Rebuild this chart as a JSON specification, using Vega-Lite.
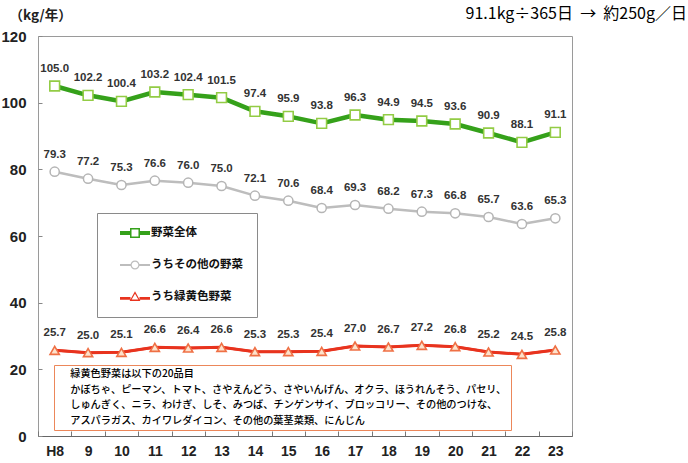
{
  "$schema": "https://vega.github.io/schema/vega-lite/v6.json",
  "width": 534,
  "height": 400,
  "autosize": "none",
  "padding": {"left": 38, "top": 36, "right": 116, "bottom": 27},
  "background": "white",
  "title": {
    "text": "91.1kg÷365日\u00a0\u00a0→\u00a0\u00a0約250g／日",
    "anchor": "end",
    "frame": "group",
    "dx": 115,
    "offset": 0,
    "dy": 14,
    "font": "Noto Sans CJK JP",
    "fontSize": 16,
    "fontWeight": "normal",
    "color": "#000000"
  },
  "datasets": {
    "consumption": [
      {"年度": "H8", "系列": "野菜全体", "値": 105.0},
      {"年度": "9", "系列": "野菜全体", "値": 102.2},
      {"年度": "10", "系列": "野菜全体", "値": 100.4},
      {"年度": "11", "系列": "野菜全体", "値": 103.2},
      {"年度": "12", "系列": "野菜全体", "値": 102.4},
      {"年度": "13", "系列": "野菜全体", "値": 101.5},
      {"年度": "14", "系列": "野菜全体", "値": 97.4},
      {"年度": "15", "系列": "野菜全体", "値": 95.9},
      {"年度": "16", "系列": "野菜全体", "値": 93.8},
      {"年度": "17", "系列": "野菜全体", "値": 96.3},
      {"年度": "18", "系列": "野菜全体", "値": 94.9},
      {"年度": "19", "系列": "野菜全体", "値": 94.5},
      {"年度": "20", "系列": "野菜全体", "値": 93.6},
      {"年度": "21", "系列": "野菜全体", "値": 90.9},
      {"年度": "22", "系列": "野菜全体", "値": 88.1},
      {"年度": "23", "系列": "野菜全体", "値": 91.1},
      {"年度": "H8", "系列": "うちその他の野菜", "値": 79.3},
      {"年度": "9", "系列": "うちその他の野菜", "値": 77.2},
      {"年度": "10", "系列": "うちその他の野菜", "値": 75.3},
      {"年度": "11", "系列": "うちその他の野菜", "値": 76.6},
      {"年度": "12", "系列": "うちその他の野菜", "値": 76.0},
      {"年度": "13", "系列": "うちその他の野菜", "値": 75.0},
      {"年度": "14", "系列": "うちその他の野菜", "値": 72.1},
      {"年度": "15", "系列": "うちその他の野菜", "値": 70.6},
      {"年度": "16", "系列": "うちその他の野菜", "値": 68.4},
      {"年度": "17", "系列": "うちその他の野菜", "値": 69.3},
      {"年度": "18", "系列": "うちその他の野菜", "値": 68.2},
      {"年度": "19", "系列": "うちその他の野菜", "値": 67.3},
      {"年度": "20", "系列": "うちその他の野菜", "値": 66.8},
      {"年度": "21", "系列": "うちその他の野菜", "値": 65.7},
      {"年度": "22", "系列": "うちその他の野菜", "値": 63.6},
      {"年度": "23", "系列": "うちその他の野菜", "値": 65.3},
      {"年度": "H8", "系列": "うち緑黄色野菜", "値": 25.7},
      {"年度": "9", "系列": "うち緑黄色野菜", "値": 25.0},
      {"年度": "10", "系列": "うち緑黄色野菜", "値": 25.1},
      {"年度": "11", "系列": "うち緑黄色野菜", "値": 26.6},
      {"年度": "12", "系列": "うち緑黄色野菜", "値": 26.4},
      {"年度": "13", "系列": "うち緑黄色野菜", "値": 26.6},
      {"年度": "14", "系列": "うち緑黄色野菜", "値": 25.3},
      {"年度": "15", "系列": "うち緑黄色野菜", "値": 25.3},
      {"年度": "16", "系列": "うち緑黄色野菜", "値": 25.4},
      {"年度": "17", "系列": "うち緑黄色野菜", "値": 27.0},
      {"年度": "18", "系列": "うち緑黄色野菜", "値": 26.7},
      {"年度": "19", "系列": "うち緑黄色野菜", "値": 27.2},
      {"年度": "20", "系列": "うち緑黄色野菜", "値": 26.8},
      {"年度": "21", "系列": "うち緑黄色野菜", "値": 25.2},
      {"年度": "22", "系列": "うち緑黄色野菜", "値": 24.5},
      {"年度": "23", "系列": "うち緑黄色野菜", "値": 25.8}
    ],
    "note": [
      {"行": "緑黄色野菜は以下の20品目"},
      {"行": "かぼちゃ、ピーマン、トマト、さやえんどう、さやいんげん、オクラ、ほうれんそう、パセリ、"},
      {"行": "しゅんぎく、ニラ、わけぎ、しそ、みつば、チンゲンサイ、ブロッコリー、その他のつけな、"},
      {"行": "アスパラガス、カイワレダイコン、その他の葉茎菜類、にんじん"}
    ]
  },
  "layer": [
    {
      "data": {"name": "consumption"},
      "mark": {"type": "line", "strokeJoin": "round", "strokeWidth": 2.5},
      "encoding": {
        "x": {
          "field": "年度",
          "type": "ordinal",
          "sort": null,
          "scale": {"type": "band", "paddingInner": 0, "paddingOuter": 0},
          "axis": {
            "title": null,
            "labelAngle": 0,
            "labelFont": "Liberation Sans",
            "labelFontSize": 14,
            "labelFontWeight": "bold",
            "labelColor": "#222222",
            "labelPadding": 13,
            "ticks": true,
            "tickBand": "extent",
            "tickSize": -5,
            "tickColor": "#777777",
            "domainColor": "#666666",
            "grid": false
          }
        },
        "y": {
          "field": "値",
          "type": "quantitative",
          "scale": {"domain": [0, 120], "nice": false},
          "axis": {
            "values": [0, 20, 40, 60, 80, 100, 120],
            "title": "（kg/年）",
            "titleAngle": 0,
            "titleAlign": "left",
            "titleBaseline": "middle",
            "titleX": -29,
            "titleY": -21,
            "titleFont": "Noto Sans CJK JP",
            "titleFontSize": 13.5,
            "titleFontWeight": "bold",
            "titleColor": "#222222",
            "labelFont": "Liberation Sans",
            "labelFontSize": 15,
            "labelFontWeight": "bold",
            "labelColor": "#222222",
            "tickSize": -4,
            "tickColor": "#888888",
            "labelPadding": 16,
            "domain": false,
            "grid": false
          }
        },
        "color": {
          "field": "系列",
          "type": "nominal",
          "scale": {
            "domain": ["野菜全体", "うちその他の野菜", "うち緑黄色野菜"],
            "range": ["#35a11a", "#bdbdbd", "#e8331e"]
          },
          "legend": {
            "orient": "none",
            "legendX": 59,
            "legendY": 177,
            "title": null,
            "fillColor": "white",
            "strokeColor": "#8a8a8a",
            "padding": 14,
            "symbolOffset": 18,
            "symbolSize": 144,
            "symbolStrokeWidth": 0,
            "labelOffset": 10,
            "rowPadding": 20,
            "labelFont": "Noto Sans CJK JP",
            "labelFontSize": 11.5,
            "labelFontWeight": "bold",
            "labelColor": "#111111",
            "labelLimit": 300,
            "encode": {
              "symbols": {
                "update": {
                  "shape": {
                    "signal": "datum.value === '野菜全体' ? 'M-2.5,-0.35H-0.83V0.35H-2.5Z M0.83,-0.35H2.5V0.35H0.83Z M-0.83,-0.83H0.83V0.83H-0.83Z M-0.58,-0.58V0.58H0.58V-0.58Z' : datum.value === 'うちその他の野菜' ? 'M-2.5,-0.17H-0.72V0.17H-2.5Z M0.72,-0.17H2.5V0.17H0.72Z M-0.75,0A0.75,0.75 0 1,1 0.75,0A0.75,0.75 0 1,1 -0.75,0Z M-0.55,0A0.55,0.55 0 1,0 0.55,0A0.55,0.55 0 1,0 -0.55,0Z' : 'M-2.5,0H-0.75V0.45H-2.5Z M0.75,0H2.5V0.45H0.75Z M0,-0.95L0.9,0.65H-0.9Z M0,-0.55L-0.55,0.42H0.55Z'"
                  },
                  "fill": {"signal": "scale('color', datum.value)"},
                  "fillOpacity": {"value": 1},
                  "stroke": {"value": "transparent"},
                  "strokeWidth": {"value": 0}
                }
              }
            }
          }
        }
      }
    },
    {
      "data": {"name": "consumption"},
      "transform": [{"filter": "datum['系列'] === '野菜全体'"}],
      "mark": {"type": "line", "strokeJoin": "round", "strokeWidth": 4.5, "color": "#35a11a"},
      "encoding": {
        "x": {"field": "年度", "type": "ordinal", "sort": null},
        "y": {"field": "値", "type": "quantitative"}
      }
    },
    {
      "data": {"name": "consumption"},
      "transform": [{"filter": "datum['系列'] === 'うち緑黄色野菜'"}],
      "mark": {"type": "line", "strokeJoin": "round", "strokeWidth": 3, "color": "#e8331e"},
      "encoding": {
        "x": {"field": "年度", "type": "ordinal", "sort": null},
        "y": {"field": "値", "type": "quantitative"}
      }
    },
    {
      "data": {"name": "consumption"},
      "transform": [{"filter": "datum['系列'] === '野菜全体'"}],
      "mark": {"type": "point", "shape": "square", "filled": false, "fill": "#ffffff", "fillOpacity": 1, "stroke": "#93cc45", "size": 95, "strokeWidth": 1.6, "opacity": 1},
      "encoding": {
        "x": {"field": "年度", "type": "ordinal", "sort": null},
        "y": {"field": "値", "type": "quantitative"}
      }
    },
    {
      "data": {"name": "consumption"},
      "transform": [{"filter": "datum['系列'] === 'うちその他の野菜'"}],
      "mark": {"type": "point", "shape": "circle", "filled": false, "fill": "#ffffff", "fillOpacity": 1, "stroke": "#b5b5b5", "size": 85, "strokeWidth": 1.5, "opacity": 1},
      "encoding": {
        "x": {"field": "年度", "type": "ordinal", "sort": null},
        "y": {"field": "値", "type": "quantitative"}
      }
    },
    {
      "data": {"name": "consumption"},
      "transform": [{"filter": "datum['系列'] === 'うち緑黄色野菜'"}],
      "mark": {"type": "point", "shape": "triangle-up", "filled": false, "fill": "#fde2cc", "fillOpacity": 1, "stroke": "#ef7045", "size": 85, "strokeWidth": 1.6, "opacity": 1},
      "encoding": {
        "x": {"field": "年度", "type": "ordinal", "sort": null},
        "y": {"field": "値", "type": "quantitative"}
      }
    },
    {
      "data": {"name": "consumption"},
      "mark": {
        "type": "text",
        "dy": -17,
        "font": "Liberation Sans",
        "fontSize": 11.5,
        "fontWeight": "bold",
        "color": "#333333"
      },
      "encoding": {
        "x": {"field": "年度", "type": "ordinal", "sort": null},
        "y": {"field": "値", "type": "quantitative"},
        "text": {"field": "値", "type": "quantitative", "format": ".1f"}
      }
    },
    {
      "data": {"name": "note"},
      "mark": {"type": "point", "opacity": 0},
      "encoding": {
        "strokeDash": {
          "field": "行",
          "type": "nominal",
          "sort": null,
          "legend": {
            "orient": "none",
            "legendX": 16,
            "legendY": 329,
            "title": null,
            "fillColor": "white",
            "strokeColor": "#ec875a",
            "padding": 4,
            "symbolType": "circle",
            "symbolSize": 0,
            "symbolOpacity": 0,
            "symbolStrokeWidth": 0,
            "symbolOffset": 0,
            "labelOffset": 2,
            "rowPadding": 4.5,
            "labelFont": "Noto Sans CJK JP",
            "labelFontSize": 10.2,
            "labelFontWeight": 500,
            "labelColor": "#000000",
            "labelLimit": 600
          }
        }
      }
    }
  ],
  "config": {
    "view": {"stroke": "#9a9a9a", "strokeWidth": 1}
  }
}
